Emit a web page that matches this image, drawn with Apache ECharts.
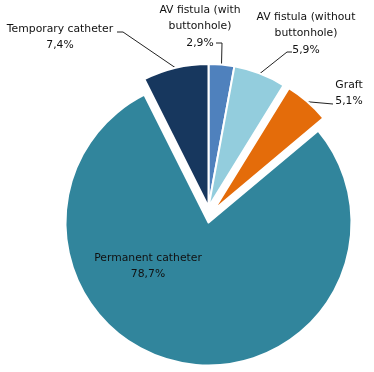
<!DOCTYPE html>
<html><head><meta charset="utf-8">
<script src="https://cdn.jsdelivr.net/npm/echarts@6/dist/echarts.min.js"></script>
<style>html,body{margin:0;padding:0;background:#fff}#c{width:374px;height:372px}</style>
</head><body><div id="c"></div>
<script>
const categories = ['AV fistula (with buttonhole)', 'AV fistula (without buttonhole)', 'Graft', 'Permanent catheter', 'Temporary catheter'];
const labelNames = ['AV fistula (with\nbuttonhole)', 'AV fistula (without\nbuttonhole)', 'Graft', 'Permanent catheter', 'Temporary catheter'];
const values = [2.9, 5.9, 5.1, 78.7, 7.4];
const colors = ['#4F81BD', '#93CDDD', '#E46C0A', '#31859C', '#17375E'];

// pulled-out slices: shift of the slice (px) [dx, dy]
const explodeShift = {2: [5.3, 2.9], 3: [0, 15.5]};

// label placement (centre of text block) and leader line elbows
const labelPlace = [
  {x: 200, y: 26.5, line: [[222, 43], [216, 43]]},
  {x: 306, y: 33.5, line: [[287, 52], [292, 52]]},
  {x: 349, y: 93, line: [[333, 104], [333, 104]]},
  {x: 148, y: 266, line: null},
  {x: 60, y: 37, line: [[123, 32], [117, 32]]}
];

const CX = 208.5, CY = 207, R = 143;
const fmt = v => String(v).replace('.', ',') + '%';
const transparent = 'rgba(0,0,0,0)';

function makeData(drawIdx) {
  return categories.map((c, i) => {
    const visible = drawIdx.includes(i);
    const item = {name: c, value: values[i]};
    if (visible) {
      item.itemStyle = {color: colors[i], borderColor: '#fff', borderWidth: 2};
      item.label = {show: true};
      item.labelLine = {show: labelPlace[i].line !== null};
    } else {
      item.itemStyle = {color: transparent, borderWidth: 0};
      item.label = {show: false};
      item.labelLine = {show: false};
      item.silent = true;
    }
    return item;
  });
}

function layoutFn(p) {
  const lp = labelPlace[p.dataIndex];
  const res = {x: lp.x, y: lp.y, align: 'center', verticalAlign: 'middle'};
  if (lp.line && p.labelLinePoints && p.labelLinePoints[0]) {
    res.labelLinePoints = [p.labelLinePoints[0], lp.line[0], lp.line[1]];
  }
  return res;
}

function makeSeries(drawIdx, shift) {
  return {
    type: 'pie',
    center: [CX + shift[0], CY + shift[1]],
    radius: R,
    startAngle: 90,
    clockwise: true,
    avoidLabelOverlap: false,
    animation: false,
    emphasis: {disabled: true},
    label: {
      position: 'outside',
      formatter: p => labelNames[p.dataIndex] + '\n' + fmt(p.value),
      fontFamily: 'DejaVu Sans',
      fontSize: 10.8,
      lineHeight: 16.5,
      color: '#111',
      align: 'center'
    },
    labelLine: {show: true, lineStyle: {color: '#222', width: 1}, length: 10, length2: 10},
    labelLayout: layoutFn,
    data: makeData(drawIdx)
  };
}

const plain = [], series = [];
values.forEach((v, i) => { if (!explodeShift[i]) plain.push(i); });
series.push(makeSeries(plain, [0, 0]));
values.forEach((v, i) => { if (explodeShift[i]) series.push(makeSeries([i], explodeShift[i])); });

const chart = echarts.init(document.getElementById('c'), null, {renderer: 'canvas'});
chart.setOption({backgroundColor: '#fff', series: series});
</script></body></html>
